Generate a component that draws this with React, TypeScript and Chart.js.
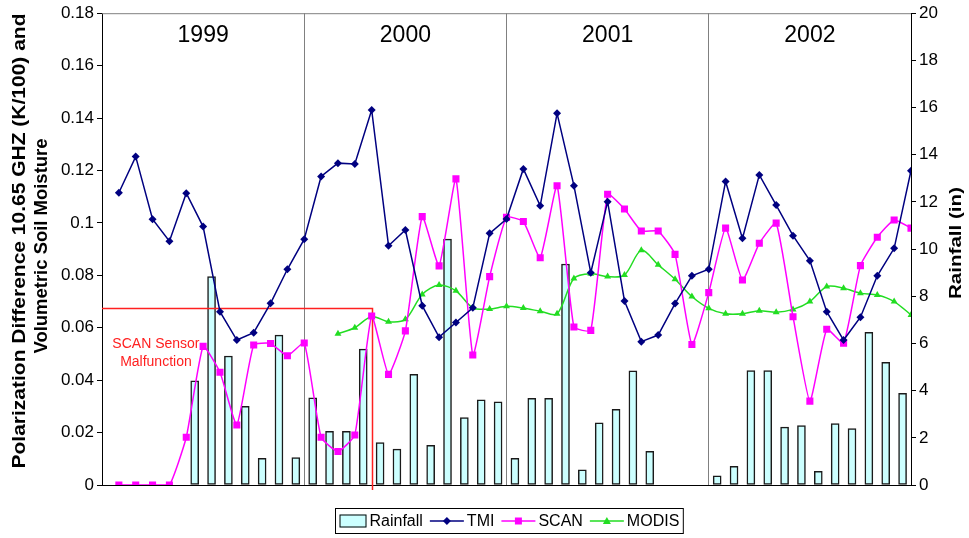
import React, { useEffect, useRef } from 'react';
import { Chart, registerables } from 'chart.js';

Chart.register(...registerables);

// ---------- data ----------
const years = ['1999', '2000', '2001', '2002'];
const monthsPerYear = 12;

// monthly rainfall (in), null = no bar
const rainfall = [
  null, null, null, null, null, 4.42, 8.83, 5.47, 3.34, 1.13, 6.35, 1.16,
  3.70, 2.28, 2.28, 5.76, 1.80, 1.52, 4.69, 1.68, 10.42, 2.86, 3.61, 3.53,
  1.13, 3.67, 3.67, 9.37, 0.64, 2.64, 3.21, 4.84, 1.43, null, null, null,
  0.39, 0.79, 4.85, 4.85, 2.45, 2.52, 0.58, 2.60, 2.39, 6.47, 5.20, 3.89,
];

const tmi = [
  0.1115, 0.1253, 0.1014, 0.0930, 0.1113, 0.0986, 0.0661, 0.0553, 0.0581, 0.0693, 0.0823, 0.0938,
  0.1177, 0.1228, 0.1225, 0.1431, 0.0913, 0.0973, 0.0684, 0.0564, 0.0620, 0.0676, 0.0960, 0.1015,
  0.1206, 0.1065, 0.1418, 0.1142, 0.0810, 0.1081, 0.0702, 0.0547, 0.0572, 0.0692, 0.0798, 0.0823,
  0.1158, 0.0941, 0.1183, 0.1068, 0.0951, 0.0856, 0.0661, 0.0553, 0.0640, 0.0798, 0.0903, 0.1199,
];

const scan = [
  0, 0, 0, 0, 0.0182, 0.0529, 0.0430, 0.0229, 0.0534, 0.0540, 0.0493, 0.0542,
  0.0182, 0.0128, 0.0191, 0.0645, 0.0422, 0.0588, 0.1024, 0.0836, 0.1168, 0.0496, 0.0795, 0.1021,
  0.1005, 0.0867, 0.1142, 0.0603, 0.0590, 0.1109, 0.1053, 0.0969, 0.0969, 0.0880, 0.0536, 0.0734,
  0.0980, 0.0782, 0.0922, 0.0999, 0.0642, 0.0320, 0.0594, 0.0541, 0.0837, 0.0945, 0.1011, 0.0980,
];

const modis = [
  null, null, null, null, null, null, null, null, null, null, null, null,
  null, 0.0577, 0.0600, 0.0643, 0.0623, 0.0632, 0.0727, 0.0763, 0.0741, 0.0676, 0.0671, 0.0682,
  0.0675, 0.0663, 0.0653, 0.0788, 0.0806, 0.0795, 0.0801, 0.0896, 0.0840, 0.0785, 0.0719, 0.0674,
  0.0653, 0.0653, 0.0665, 0.0659, 0.0670, 0.0700, 0.0757, 0.0751, 0.0732, 0.0725, 0.0700, 0.0649,
];

const leftMax = 0.18;
const leftStep = 0.02;
const rightMax = 20;
const rightStep = 2;

const malfunctionLevel = 0.0677;
const malfunctionEndMonth = 16;
const malfunctionLabel = ['SCAN Sensor', 'Malfunction'];

const leftTitle = ['Polarization Difference 10.65 GHZ (K/100) and', 'Volumetric Soil Moisture'];
const rightTitle = 'Rainfall (in)';
const seriesNames = ['Rainfall', 'TMI', 'SCAN', 'MODIS'];

// ---------- styles ----------
const FONT = "'Liberation Sans', Arial, Helvetica, sans-serif";
const C_BAR = '#CCFFFF';
const C_BAR_BORDER = '#1a1a1a';
const C_TMI = '#000080';
const C_SCAN = '#FF00FF';
const C_MODIS = '#22DD22';
const C_RED = '#FF2020';

const nMonths = years.length * monthsPerYear;

function drawMarker(ctx: CanvasRenderingContext2D, kind: string, x: number, y: number, color: string) {
  ctx.save();
  ctx.fillStyle = color;
  ctx.beginPath();
  if (kind === 'diamond') {
    ctx.moveTo(x, y - 4); ctx.lineTo(x + 4, y); ctx.lineTo(x, y + 4); ctx.lineTo(x - 4, y);
  } else if (kind === 'square') {
    ctx.rect(x - 3.5, y - 3.5, 7, 7);
  } else {
    ctx.moveTo(x, y - 4); ctx.lineTo(x + 4, y + 3); ctx.lineTo(x - 4, y + 3);
  }
  ctx.closePath();
  ctx.fill();
  ctx.restore();
}

// draws rotated text centred at (cx, cy) stretched to a target length
function drawRotated(ctx: CanvasRenderingContext2D, text: string, cx: number, cy: number, angle: number, length: number) {
  ctx.save();
  ctx.translate(cx, cy);
  ctx.rotate(angle);
  const w = ctx.measureText(text).width;
  ctx.scale(length / w, 1);
  ctx.textAlign = 'center';
  ctx.textBaseline = 'middle';
  ctx.fillText(text, 0, 0);
  ctx.restore();
}

const overlayPlugin = {
  id: 'overlay',
  beforeDatasetsDraw(chart: any) {
    const { ctx, chartArea: a } = chart;
    const xs = chart.scales.x;
    ctx.save();
    ctx.strokeStyle = '#808080';
    ctx.lineWidth = 1;
    ctx.beginPath();
    ctx.moveTo(a.left, a.top + 0.5);
    ctx.lineTo(a.right, a.top + 0.5);
    ctx.stroke();
    ctx.fillStyle = '#000';
    ctx.font = `23px ${FONT}`;
    ctx.textAlign = 'center';
    ctx.textBaseline = 'middle';
    years.forEach((y, i) => {
      ctx.fillText(y, xs.getPixelForValue(i * monthsPerYear + monthsPerYear / 2), a.top + 22);
    });
    ctx.restore();
  },
  afterDatasetDraw(chart: any, args: any) {
    if (args.index !== 0) return;
    const { ctx, chartArea: a } = chart;
    const xs = chart.scales.x;
    const ys = chart.scales.y;
    const yl = Math.round(ys.getPixelForValue(malfunctionLevel)) + 0.5;
    const xe = Math.round(xs.getPixelForValue(malfunctionEndMonth)) + 0.5;
    ctx.save();
    ctx.strokeStyle = C_RED;
    ctx.lineWidth = 1.5;
    ctx.beginPath();
    ctx.moveTo(a.left, yl);
    ctx.lineTo(xe, yl);
    ctx.lineTo(xe, a.bottom + 5);
    ctx.stroke();
    ctx.fillStyle = C_RED;
    ctx.font = `14px ${FONT}`;
    ctx.textAlign = 'center';
    ctx.textBaseline = 'middle';
    const cx = xs.getPixelForValue(3.2);
    ctx.fillText(malfunctionLabel[0], cx, yl + 36);
    ctx.fillText(malfunctionLabel[1], cx, yl + 54);
    ctx.restore();
  },
  afterDraw(chart: any) {
    const { ctx } = chart;
    ctx.save();
    // axis titles
    ctx.fillStyle = '#000';
    ctx.font = `bold 18px ${FONT}`;
    drawRotated(ctx, leftTitle[0], 20, 241, -Math.PI / 2, 455);
    drawRotated(ctx, leftTitle[1], 42, 246, -Math.PI / 2, 215);
    ctx.font = `bold 17px ${FONT}`;
    drawRotated(ctx, rightTitle, 956, 243, -Math.PI / 2, 112);

    // legend
    ctx.font = `16px ${FONT}`;
    ctx.textBaseline = 'middle';
    const swatchW = 27, lineW = 34, gapIcon = 3, gapItem = 7, pad = 4;
    const widths = seriesNames.map((n) => ctx.measureText(n).width);
    let total = pad * 2;
    seriesNames.forEach((_, i) => {
      total += (i === 0 ? swatchW : lineW) + gapIcon + widths[i];
      if (i < seriesNames.length - 1) total += gapItem;
    });
    const cxCenter = 509;
    const bx = Math.round(cxCenter - total / 2) + 0.5;
    const by = 508.5, bh = 25;
    ctx.strokeStyle = '#000';
    ctx.lineWidth = 1;
    ctx.strokeRect(bx, by, total, bh);
    const cy = by + bh / 2;
    let x = bx + pad;
    const kinds = ['bar', 'diamond', 'square', 'triangle'];
    const colors = [C_BAR, C_TMI, C_SCAN, C_MODIS];
    seriesNames.forEach((name, i) => {
      if (i === 0) {
        ctx.fillStyle = C_BAR;
        ctx.fillRect(x, cy - 6.5, swatchW, 13);
        ctx.strokeStyle = '#000';
        ctx.strokeRect(x + 0.5, cy - 6, swatchW - 1, 12);
        x += swatchW;
      } else {
        ctx.strokeStyle = colors[i];
        ctx.lineWidth = 1.5;
        ctx.beginPath();
        ctx.moveTo(x, cy);
        ctx.lineTo(x + lineW, cy);
        ctx.stroke();
        drawMarker(ctx, kinds[i], x + lineW / 2, cy, colors[i]);
        x += lineW;
      }
      x += gapIcon;
      ctx.fillStyle = '#000';
      ctx.textAlign = 'left';
      ctx.fillText(name, x, cy + 1);
      x += widths[i] + gapItem;
    });
    ctx.restore();
  },
};

export default function App() {
  const ref = useRef<HTMLCanvasElement | null>(null);

  useEffect(() => {
    if (!ref.current) return;
    Chart.defaults.color = '#000';
    Chart.defaults.font.family = FONT;

    const boundaries = years.slice(1).map((_, i) => (i + 1) * monthsPerYear);

    const chart = new Chart(ref.current, {
      type: 'bar',
      data: {
        datasets: [
          {
            type: 'bar',
            label: seriesNames[0],
            data: rainfall.map((v, j) => ({ x: j + 0.5, y: v })) as any,
            yAxisID: 'y1',
            xAxisID: 'x',
            backgroundColor: C_BAR,
            borderColor: C_BAR_BORDER,
            borderWidth: 1.5,
            borderSkipped: false,
            barThickness: 8,
            order: 4,
          },
          {
            type: 'line',
            label: seriesNames[3],
            data: modis.map((v, i) => ({ x: i + 1, y: v })) as any,
            yAxisID: 'y',
            borderColor: C_MODIS,
            backgroundColor: C_MODIS,
            borderWidth: 1.5,
            pointStyle: 'triangle',
            pointRadius: 4,
            pointBorderWidth: 0,
            tension: 0.3,
            spanGaps: false,
            order: 3,
          },
          {
            type: 'line',
            label: seriesNames[2],
            data: scan.map((v, i) => ({ x: i + 1, y: v })) as any,
            yAxisID: 'y',
            borderColor: C_SCAN,
            backgroundColor: C_SCAN,
            borderWidth: 1.5,
            pointStyle: 'rect',
            pointRadius: 5,
            pointBorderWidth: 0,
            tension: 0.15,
            order: 2,
          },
          {
            type: 'line',
            label: seriesNames[1],
            data: tmi.map((v, i) => ({ x: i + 1, y: v })) as any,
            yAxisID: 'y',
            borderColor: C_TMI,
            backgroundColor: C_TMI,
            borderWidth: 1.5,
            pointStyle: 'rectRot',
            pointRadius: 4,
            pointBorderWidth: 0,
            tension: 0,
            order: 1,
          },
        ],
      },
      options: {
        responsive: false,
        animation: false,
        layout: { padding: { top: 13, left: 0, right: 0, bottom: 0 } },
        plugins: {
          legend: { display: false },
          tooltip: { enabled: false },
        },
        scales: {
          x: {
            type: 'linear',
            min: 0,
            max: nMonths,
            offset: false,
            ticks: { display: false, stepSize: monthsPerYear },
            grid: {
              offset: false,
              drawTicks: false,
              lineWidth: 1,
              color: (c: any) => (boundaries.includes(c.tick?.value) ? '#808080' : 'rgba(0,0,0,0)'),
            },
            border: { display: true, color: '#000', width: 1 },
            afterFit: (s: any) => { s.height = 53; },
          },
          y: {
            position: 'left',
            min: 0,
            max: leftMax,
            ticks: {
              stepSize: leftStep,
              font: { size: 17 },
              color: '#000',
              padding: 3,
              callback: (v: any) => String(Number(Number(v).toFixed(2))),
            },
            grid: { drawOnChartArea: false, drawTicks: true, tickLength: 5, color: '#000' },
            border: { display: true, color: '#000', width: 1 },
            title: { display: false },
            afterFit: (s: any) => { s.width = 102; },
          },
          y1: {
            position: 'right',
            min: 0,
            max: rightMax,
            ticks: { stepSize: rightStep, font: { size: 17 }, color: '#000', padding: 3 },
            grid: { drawOnChartArea: false, drawTicks: true, tickLength: 5, color: '#000' },
            border: { display: true, color: '#000', width: 1 },
            title: { display: false },
            afterFit: (s: any) => { s.width = 58; },
          },
        },
      } as any,
      plugins: [overlayPlugin],
    });
    return () => chart.destroy();
  }, []);

  return (
    <div style={{ position: 'fixed', left: 0, top: 0, width: 969, height: 538, background: '#fff' }}>
      <canvas ref={ref} width={969} height={538} style={{ display: 'block', width: 969, height: 538 }} />
    </div>
  );
}
